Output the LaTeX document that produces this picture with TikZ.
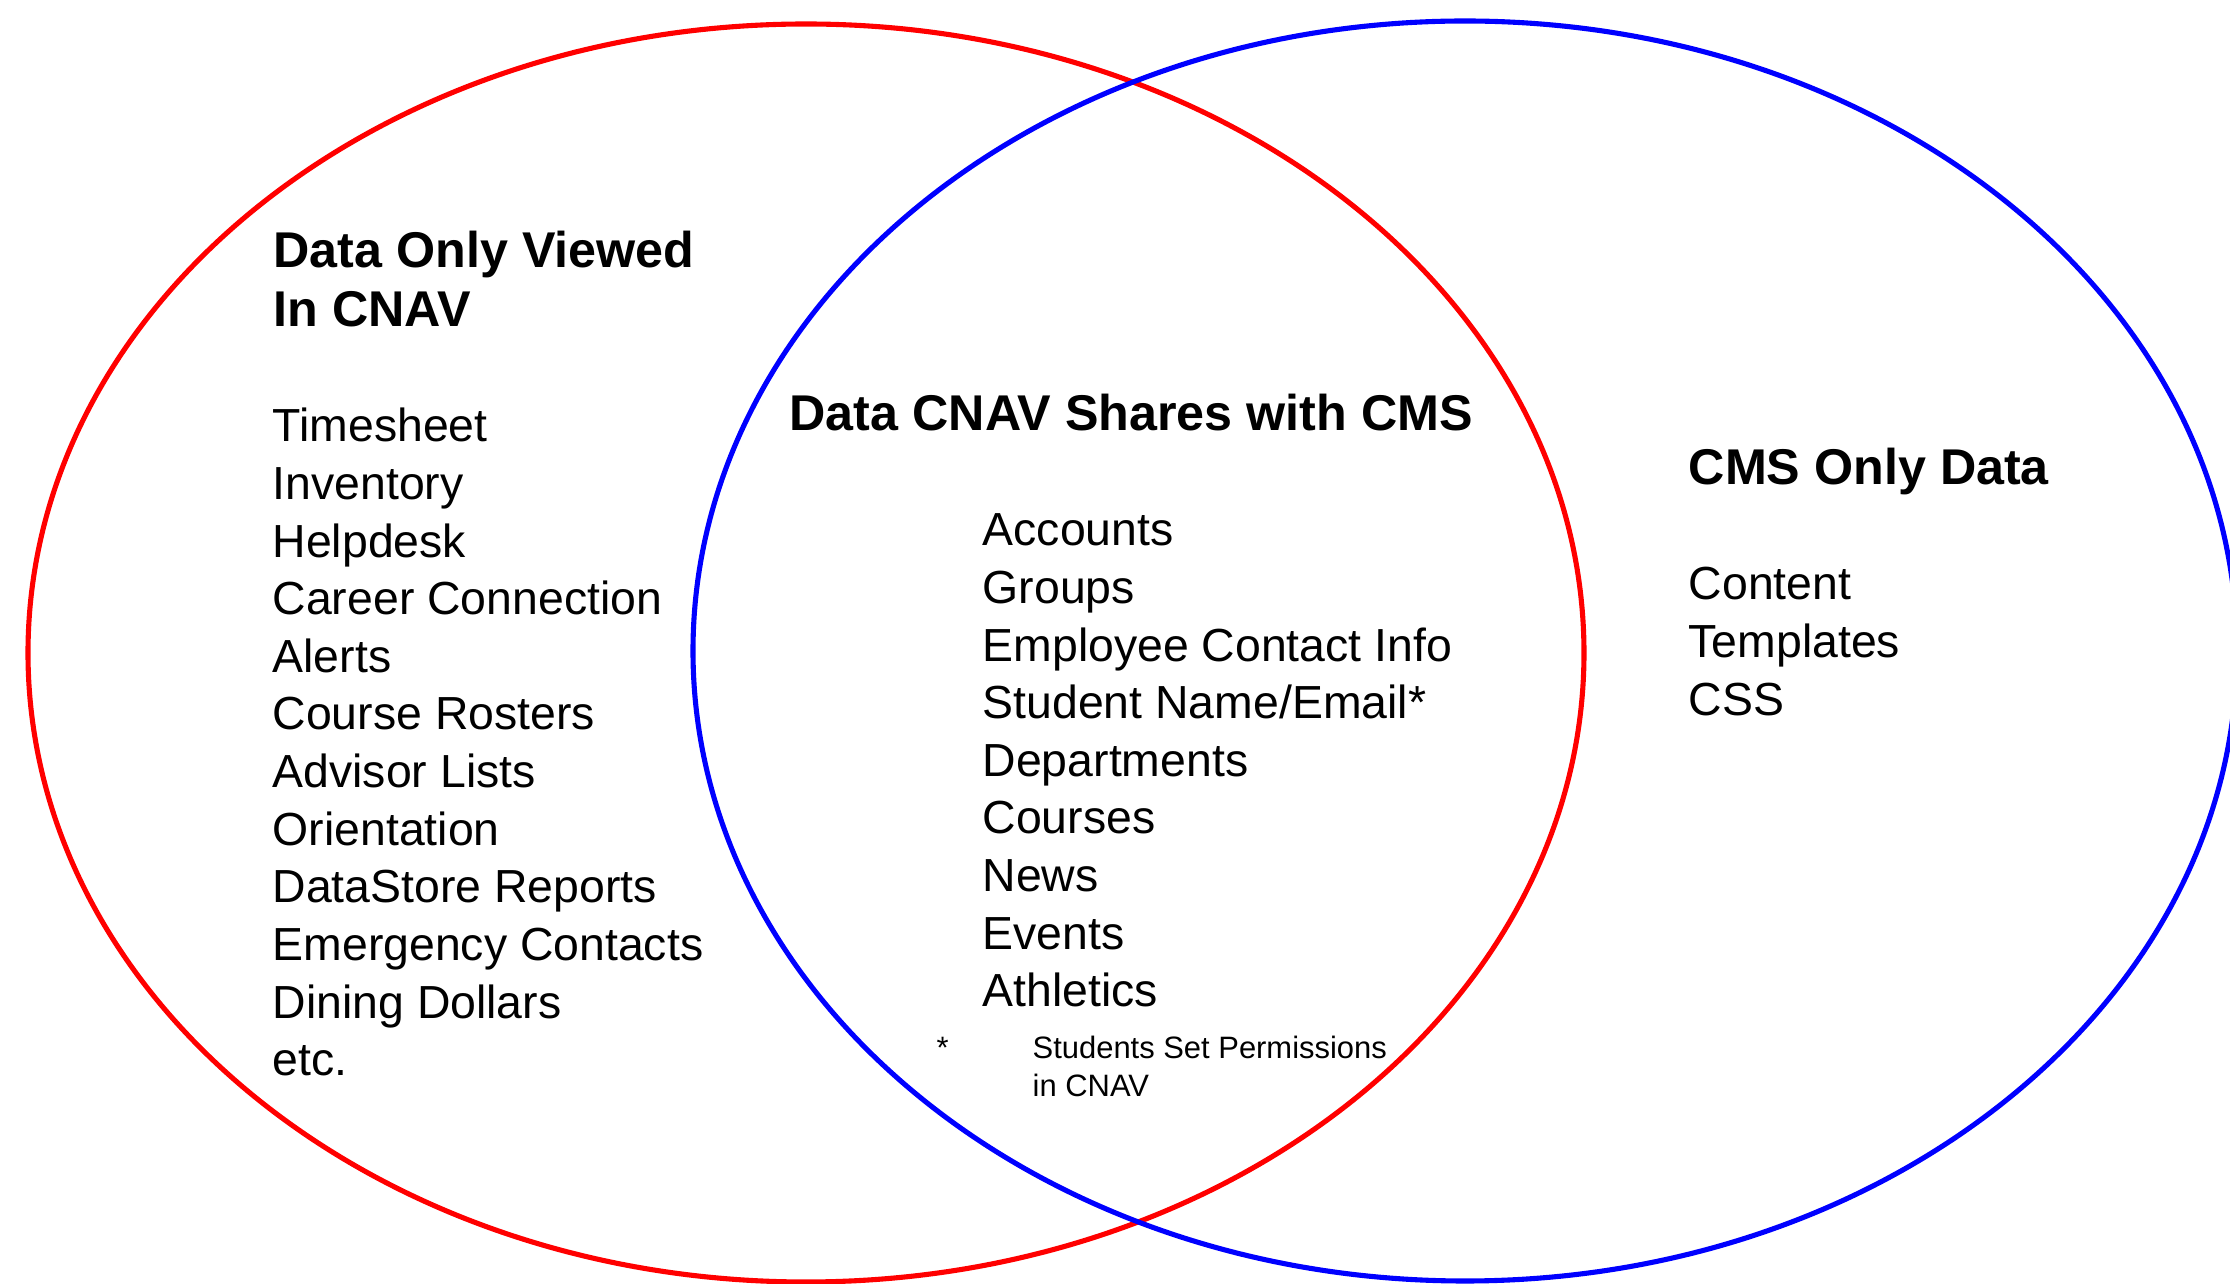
\documentclass[tikz,border=0pt]{standalone}
\usepackage{fontspec}
\setmainfont{Liberation Sans}
\usepackage{tikz}
\usetikzlibrary{positioning}
\definecolor{cnavred}{RGB}{255,0,0}
\definecolor{cmsblue}{RGB}{0,0,255}
\tikzset{
  ring/.style={line width=1.45pt},
  heading/.style={anchor=base west, inner sep=0pt,
    font=\fontsize{14.3}{17}\selectfont\bfseries},
  item/.style={anchor=base west, inner sep=0pt,
    font=\fontsize{13.2}{16.4}\selectfont},
  note/.style={anchor=base west, inner sep=0pt,
    font=\fontsize{8.8}{11}\selectfont}
}

\begin{document}
\begin{tikzpicture}
  \useasboundingbox (0,0) rectangle (22.30,12.84);

  % CNAV set
  \draw[ring, color=cnavred] (8.06,6.31) ellipse [x radius=7.78, y radius=6.29];
  % CMS set
  \draw[ring, color=cmsblue] (14.65,6.33) ellipse [x radius=7.72, y radius=6.30];

  % Viewed only in CNAV
  \node[heading] (viewhead) at (2.73,10.16) {Data Only Viewed};
  \node[heading] (viewhead2) at (2.73,9.57) {In CNAV};
  \foreach \name [count=\i] in {Timesheet, Inventory, Helpdesk,
      Career Connection, Alerts, Course Rosters, Advisor Lists, Orientation,
      DataStore Reports, Emergency Contacts, Dining Dollars, etc.}
    \node[item] (view\i) at (2.72, {8.42-0.576*(\i-1)}) {\name};

  % Shared data
  \node[heading] (sharehead) at (7.89,8.53) {Data CNAV Shares with CMS};
  \foreach \name [count=\i] in {Accounts, Groups, Employee Contact Info,
      Student Name/Email*, Departments, Courses, News, Events, Athletics}
    \node[item] (share\i) at (9.82, {7.38-0.576*(\i-1)}) {\name};

  % Footnote for the starred entry
  \node[note] (star) at (9.36,2.25) {*};
  \node[note] (note1) at (10.32,2.25) {Students Set Permissions};
  \node[note] (note2) at (10.32,1.87) {in CNAV};

  % CMS only
  \node[heading] (cmshead) at (16.88,7.99) {CMS Only Data};
  \foreach \name [count=\i] in {Content, Templates, CSS}
    \node[item] (cms\i) at (16.88, {6.84-0.578*(\i-1)}) {\name};
\end{tikzpicture}
\end{document}
